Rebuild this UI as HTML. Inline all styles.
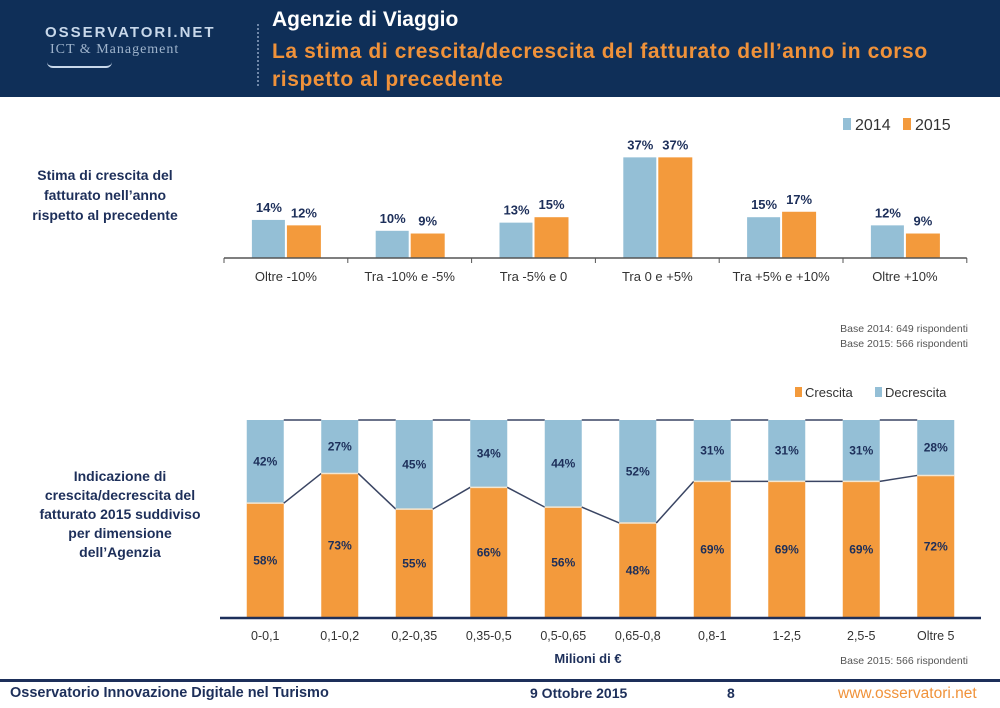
<!DOCTYPE html>
<html><head><meta charset="utf-8"><style>
body{margin:0;width:1000px;height:708px;overflow:hidden;background:#fff;font-family:"Liberation Sans","DejaVu Sans",sans-serif;position:relative}
.hdr{position:absolute;left:0;top:0;width:1000px;height:97px;background:#0f2f58}
.t{position:absolute;white-space:nowrap}
</style></head><body>
<div class="hdr"></div>
<div class="t" style="left:45px;top:24px;color:#c8d8ea;font-size:15px;letter-spacing:2px;font-weight:bold">OSSERVATORI.NET</div>
<div class="t" style="left:50px;top:42px;color:#9fb4cc;font-size:14px;font-family:'Liberation Serif',serif;letter-spacing:1px">ICT &amp; Management</div>
<div style="position:absolute;left:47px;top:62px;width:65px;height:4px;border-bottom:2px solid #c8d8ea;border-radius:0 0 40px 40px"></div>
<div style="position:absolute;left:257px;top:24px;height:62px;border-left:2px dotted #6f87a8"></div>
<div class="t" style="left:272px;top:8px;color:#fff;font-size:21px;font-weight:bold">Agenzie di Viaggio</div>
<div class="t" style="left:272px;top:38px;color:#f0923a;font-size:21px;letter-spacing:0.6px;font-weight:bold;line-height:28px">La stima di crescita/decrescita del fatturato dell’anno in corso<br>rispetto al precedente</div>

<div class="t" style="left:10px;top:165px;width:190px;text-align:center;color:#1d2f5a;font-size:14px;font-weight:bold;line-height:20px">Stima di crescita del<br>fatturato nell’anno<br>rispetto al precedente</div>
<div class="t" style="left:10px;top:467px;width:220px;text-align:center;color:#1d2f5a;font-size:14px;font-weight:bold;line-height:19px">Indicazione di<br>crescita/decrescita del<br>fatturato 2015 suddiviso<br>per dimensione<br>dell’Agenzia</div>

<svg id="c" width="1000" height="708" style="position:absolute;left:0;top:0"></svg>

<div style="position:absolute;left:0;top:679px;width:1000px;height:3px;background:#1d2f5a"></div>
<div class="t" style="left:10px;top:685px;color:#1d2f5a;font-size:14.5px;font-weight:bold">Osservatorio Innovazione Digitale nel Turismo</div>
<div class="t" style="left:530px;top:685px;color:#1d2f5a;font-size:14px;font-weight:bold">9 Ottobre 2015</div>
<div class="t" style="left:727px;top:685px;color:#1d2f5a;font-size:14px;font-weight:bold">8</div>
<div class="t" style="left:838px;top:685px;color:#f0923a;font-size:15.5px">www.osservatori.net</div>

<script>
const topCats=["Oltre -10%","Tra -10% e -5%","Tra -5% e 0","Tra 0 e +5%","Tra +5% e +10%","Oltre +10%"];
const v2014=[14,10,13,37,15,12];
const v2015=[12,9,15,37,17,9];
const botCats=["0-0,1","0,1-0,2","0,2-0,35","0,35-0,5","0,5-0,65","0,65-0,8","0,8-1","1-2,5","2,5-5","Oltre 5"];
const crescita=[58,73,55,66,56,48,69,69,69,72];
const decrescita=[42,27,45,34,44,52,31,31,31,28];

const NS="http://www.w3.org/2000/svg",svg=document.getElementById('c');
const BLUE="#94bfd6",ORANGE="#f39a3c",NAVY="#1d2f5a";
function mk(t,a,p){const e=document.createElementNS(NS,t);for(const k in a)e.setAttribute(k,a[k]);(p||svg).appendChild(e);return e;}
function tx(x,y,s,o){const e=mk('text',Object.assign({x:x,y:y,'text-anchor':'middle','font-family':'Liberation Sans, sans-serif'},o));e.textContent=s;return e;}

// top chart
const tBase=258,tScale=2.72,tX0=224,tW=123.8;
const tx1=i=>tX0+tW*(i+0.5), ty=v=>tBase-v*tScale;
topCats.forEach((c,i)=>{
  const cx=tx1(i);
  let r=mk('rect',{x:cx-34,y:ty(v2014[i]),width:33,height:v2014[i]*tScale,fill:BLUE});
  
  r=mk('rect',{x:cx+1,y:ty(v2015[i]),width:34,height:v2015[i]*tScale,fill:ORANGE});
  
  let t=tx(cx-17,ty(v2014[i])-8,v2014[i]+'%',{'font-size':13,'font-weight':'bold',fill:NAVY});
  
  t=tx(cx+18,ty(v2015[i])-8,v2015[i]+'%',{'font-size':13,'font-weight':'bold',fill:NAVY});
  
  t=tx(cx,281,c,{'font-size':13,fill:'#333'});
  
});
let ax=mk('line',{x1:tX0,y1:tBase,x2:tX0+tW*6,y2:tBase,stroke:'#555','stroke-width':1.5});

for(let i=0;i<=6;i++){const tk=mk('line',{x1:tX0+tW*i,y1:tBase,x2:tX0+tW*i,y2:tBase+5,stroke:'#555'});}
// top legend
let lg=mk('rect',{x:843,y:118,width:8,height:12,fill:BLUE});
let lt=tx(855,130,'2014',{'font-size':16,fill:'#333','text-anchor':'start'});
lg=mk('rect',{x:903,y:118,width:8,height:12,fill:ORANGE});
lt=tx(915,130,'2015',{'font-size':16,fill:'#333','text-anchor':'start'});
let b1=tx(968,332,'Base 2014:  649 rispondenti',{'font-size':10.5,fill:'#555','text-anchor':'end'});
b1=tx(968,347,'Base 2015:  566 rispondenti',{'font-size':10.5,fill:'#555','text-anchor':'end'});

// bottom chart
const bBase=618,bScale=1.98,bX0=228,bW=74.5,bw=37;
const bx=i=>bX0+bW*(i+0.5), by=v=>bBase-v*bScale;
botCats.forEach((c,i)=>{
  const cx=bx(i),tot=crescita[i]+decrescita[i];
  let r=mk('rect',{x:cx-bw/2,y:by(crescita[i]),width:bw,height:crescita[i]*bScale,fill:ORANGE});
  
  r=mk('rect',{x:cx-bw/2,y:by(tot),width:bw,height:decrescita[i]*bScale,fill:BLUE});
  
  let s=mk('line',{x1:cx-bw/2,x2:cx+bw/2,y1:by(crescita[i]),y2:by(crescita[i]),stroke:'#f4e6d0','stroke-width':1.5});
  
  let t=tx(cx,by(crescita[i]/2)+4,crescita[i]+'%',{'font-size':12,'font-weight':'bold',fill:NAVY});
  
  t=tx(cx,by(crescita[i]+decrescita[i]/2)+4,decrescita[i]+'%',{'font-size':12,'font-weight':'bold',fill:NAVY});
  
  t=tx(cx,640,c,{'font-size':12.5,fill:'#333'});
  
  if(i<botCats.length-1){
    let l=mk('line',{x1:cx+bw/2,y1:by(crescita[i]),x2:bx(i+1)-bw/2,y2:by(crescita[i+1]),stroke:'#3a4563','stroke-width':1.5});
    
    l=mk('line',{x1:cx+bw/2,y1:by(tot),x2:bx(i+1)-bw/2,y2:by(crescita[i+1]+decrescita[i+1]),stroke:'#3a4563','stroke-width':1.5});
    
  }
});
ax=mk('line',{x1:bX0-8,y1:bBase,x2:bX0+bW*10+8,y2:bBase,stroke:'#1d2f5a','stroke-width':2.5});

let at=tx(588,663,'Milioni di €',{'font-size':13,'font-weight':'bold',fill:NAVY});
at=tx(968,664,'Base 2015:  566 rispondenti',{'font-size':10.5,fill:'#555','text-anchor':'end'});
lg=mk('rect',{x:795,y:387,width:7,height:10,fill:ORANGE});
lt=tx(805,397,'Crescita',{'font-size':13,fill:'#333','text-anchor':'start'});
lg=mk('rect',{x:875,y:387,width:7,height:10,fill:BLUE});
lt=tx(885,397,'Decrescita',{'font-size':13,fill:'#333','text-anchor':'start'});
</script>
</body></html>
